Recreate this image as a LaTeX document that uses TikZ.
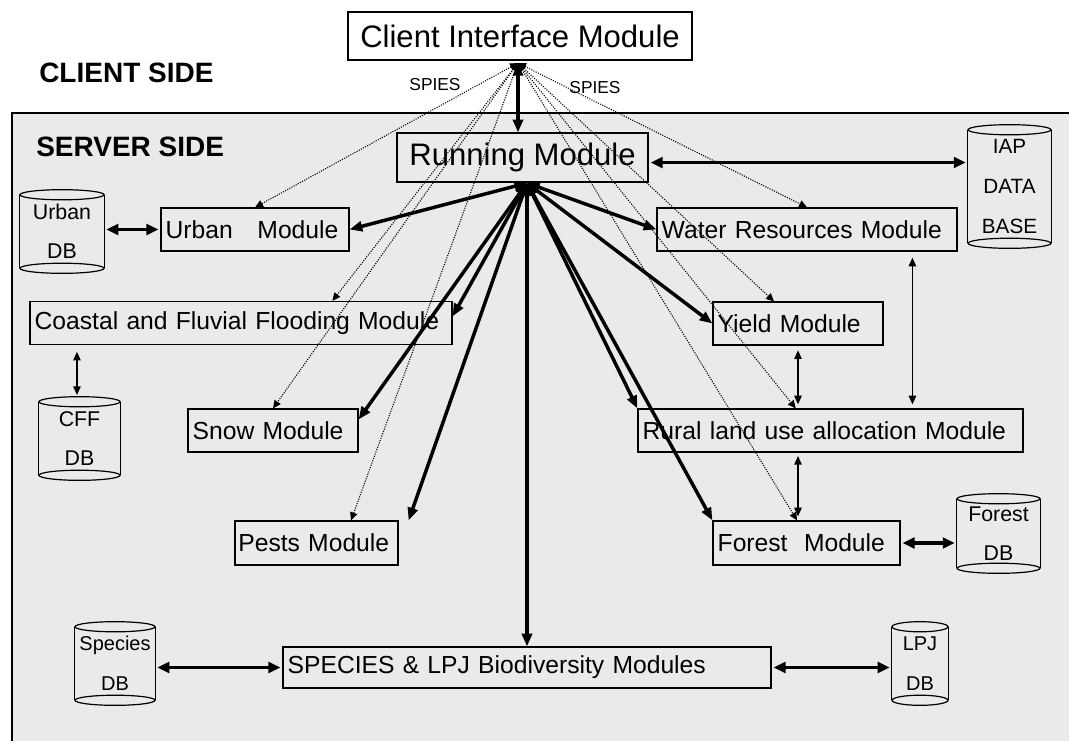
\documentclass[tikz,border=0pt]{standalone}
\usepackage{fontspec}
\setmainfont{Liberation Sans}
\usetikzlibrary{arrows.meta,calc}
\definecolor{srvgray}{RGB}{234,234,234}
% database cylinder drawn around a named text node
\newcommand\drawdb[2]{%
  \draw[dbline] (#1.north west) -- (#1.south west) (#1.north east) -- (#1.south east);
  \draw[dbline] (#1.north) ellipse [x radius=#2, y radius=3.8pt];
  \draw[dbline] (#1.south) ellipse [x radius=#2, y radius=3.8pt];
}
\begin{document}
\begin{tikzpicture}[x=0.75pt,y=-0.75pt,
  mod/.style={draw, line width=0.9pt, minimum height=32.25pt, inner xsep=3.5pt, inner ysep=0pt,
    align=left, font=\fontsize{18.5pt}{22pt}\selectfont},
  bigmod/.style={draw, line width=0.9pt, inner sep=0pt, align=center,
    font=\fontsize{23.3pt}{27pt}\selectfont},
  db/.style={inner sep=0pt, align=center, font=\fontsize{16pt}{29pt}\selectfont},
  dbline/.style={line width=0.9pt},
  side/.style={inner sep=0pt, anchor=west, font=\bfseries\fontsize{21pt}{25pt}\selectfont},
  spies/.style={inner sep=0pt, font=\fontsize{13pt}{15pt}\selectfont},
  bigarrow/.style={line width=2.6pt, arrows={Triangle[length=9.5pt,width=7.5pt]-Triangle[length=9.5pt,width=7.5pt]}},
  dbarrow/.style={line width=2.5pt, arrows={Triangle[length=9pt,width=8pt]-Triangle[length=9pt,width=8pt]},
    shorten <=1.5pt, shorten >=1.5pt},
  thinarrow/.style={line width=1.1pt, arrows={Triangle[length=6.5pt,width=5.5pt]-Triangle[length=6.5pt,width=5.5pt]}},
  dotarrow/.style={line width=0.8pt, densely dotted, arrows={Triangle[length=6pt,width=5.5pt]-Triangle[length=6pt,width=5.5pt]}}
]
\useasboundingbox (0,0) rectangle (1069,740);

% server area
\begin{scope}
  \clip (0,0) rectangle (1069,740);
  \fill[srvgray] (12,113) rectangle (1080,750);
  \draw[line width=0.9pt] (12,750) -- (12,113) -- (1080,113);
\end{scope}

\node[side] (clientlbl) at (39,73) {CLIENT SIDE};
\node[side] (serverlbl) at (36,147) {SERVER SIDE};

% main modules
\node[bigmod, fill=white, minimum width=258pt, minimum height=36pt] (client) at (520,36) {Client Interface Module};
\node[bigmod, minimum width=188.25pt, minimum height=36.75pt] (running) at (522.5,157.5) {Running Module};

\node[mod, minimum width=141pt, text width=134pt] (urban) at (255,229.5) {Urban~~~Module};
\node[mod, minimum width=316.5pt, text width=309.5pt, inner xsep=1pt] (cff) at (241,323) {Coastal and Fluvial Flooding Module};
\node[mod, minimum width=127.5pt, text width=120.5pt] (snow) at (273,430.5) {Snow Module};
\node[mod, minimum width=122.25pt, text width=117.25pt, inner xsep=2pt, minimum height=33pt] (pests) at (316.5,543) {Pests Module};
\node[mod, minimum width=225pt, text width=218pt] (water) at (807,229.5) {Water Resources Module};
\node[mod, minimum width=127.5pt, text width=120.5pt] (yield) at (798,323.5) {Yield Module};
\node[mod, minimum width=288.75pt, text width=281.75pt] (rural) at (830.5,430.5) {Rural land use allocation Module};
\node[mod, minimum width=140.25pt, text width=133.25pt, minimum height=33pt] (forest) at (806.5,543) {Forest~~Module};
\node[mod, minimum width=366pt, text width=359pt, minimum height=30.75pt] (spbox) at (527,667.5) {SPECIES \& LPJ Biodiversity Modules};

% databases
\node[db, minimum width=63pt, minimum height=54.75pt] (urbandb) at (62,231.5) {Urban\\DB};
\node[db, font=\fontsize{15.5pt}{30pt}\selectfont, minimum width=62.25pt, minimum height=84.75pt] (iapdb) at (1009.5,186.5) {IAP\\DATA\\BASE};
\node[db, minimum width=60.75pt, minimum height=54.75pt] (cffdb) at (79.5,438.5) {CFF\\DB};
\node[db, minimum width=62.25pt, minimum height=51.75pt] (forestdb) at (998.5,533.5) {Forest\\DB};
\node[db, font=\fontsize{15pt}{30pt}\selectfont, minimum width=60pt, minimum height=54.75pt] (speciesdb) at (115,663.5) {Species\\DB};
\node[db, font=\fontsize{15pt}{30pt}\selectfont, minimum width=42pt, minimum height=54.75pt] (lpjdb) at (920,663.5) {LPJ\\DB};
\drawdb{urbandb}{31.5pt}
\drawdb{iapdb}{31.1pt}
\drawdb{cffdb}{30.4pt}
\drawdb{forestdb}{31.1pt}
\drawdb{speciesdb}{30pt}
\drawdb{lpjdb}{21pt}

\node[spies] (spiesl) at (435,85) {SPIES};
\node[spies] (spiesr) at (595,88) {SPIES};

% hubs where the links meet
\coordinate (chub) at (518,63);
\coordinate (rhub) at (527,183);

% SPIES links from the client interface
\draw[dotarrow] (chub) -- (urban.north);
\draw[dotarrow] (chub) -- ($(cff.north west)!0.716!(cff.north east)$);
\draw[dotarrow] (chub) -- (snow.north);
\draw[dotarrow] (chub) -- ($(pests.north west)!0.71!(pests.north east)$);
\draw[dotarrow] (chub) -- (water.north);
\draw[dotarrow] (chub) -- ($(yield.north west)!0.36!(yield.north east)$);
\draw[dotarrow] (chub) -- ($(rural.north west)!0.41!(rural.north east)$);
\draw[dotarrow] (chub) -- ($(forest.north west)!0.45!(forest.north east)$);

% client to running module
\draw[bigarrow] (chub) -- (chub |- running.north);

% running module to the models
\draw[bigarrow] (rhub) -- (urban.east);
\draw[bigarrow] (rhub) -- ($(cff.north east)!0.35!(cff.south east)$);
\draw[bigarrow] (rhub) -- ($(snow.north east)!0.25!(snow.south east)$);
\draw[bigarrow] (rhub) -- ([xshift=7.5pt]pests.north east);
\draw[bigarrow] (rhub) -- (spbox.north);
\draw[bigarrow] (rhub) -- (water.west);
\draw[bigarrow] (rhub) -- (yield.west);
\draw[bigarrow] (rhub) -- (rural.north west);
\draw[bigarrow] (rhub) -- (forest.north west);

% data base links
\coordinate (riap) at ($(running.north east)!0.6!(running.south east)$);
\draw[dbarrow] (riap) -- (riap -| iapdb.west);
\draw[dbarrow] (urbandb.east |- urban.west) -- (urban.west);
\draw[dbarrow] (forest.east) -- (forest.east -| forestdb.west);
\draw[dbarrow] (speciesdb.east |- spbox.west) -- (spbox.west);
\draw[dbarrow] (spbox.east) -- (spbox.east -| lpjdb.west);
\draw[thinarrow, shorten <=5pt, shorten >=5pt] ([xshift=-1.9pt]cffdb.north |- cff.south) -- ([xshift=-1.9pt]cffdb.north);

% links between the land models
\coordinate (wr) at ($(water.south west)!0.85!(water.south east)$);
\draw[thinarrow, shorten <=4.5pt, shorten >=3pt] (wr) -- (wr |- rural.north);
\draw[thinarrow, shorten <=3.5pt, shorten >=3pt] (yield.south) -- (yield.south |- rural.north);
\draw[thinarrow, shorten <=2.5pt, shorten >=3pt] (yield.south |- rural.south) -- (yield.south |- forest.north);
\end{tikzpicture}
\end{document}
